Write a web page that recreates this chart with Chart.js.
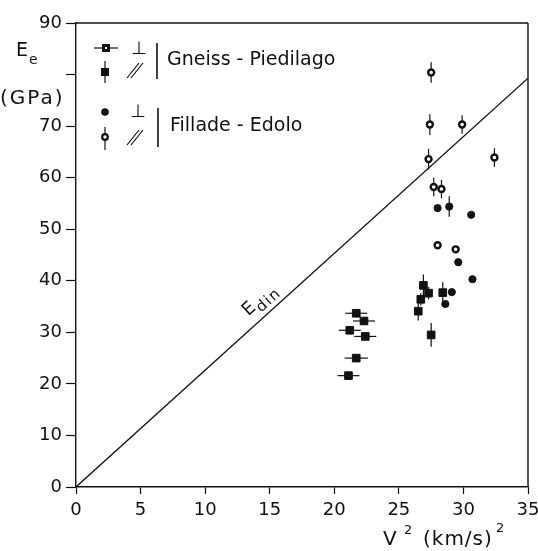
<!DOCTYPE html>
<html><head><meta charset="utf-8">
<script src="https://cdn.jsdelivr.net/npm/chart.js@4/dist/chart.umd.min.js"></script>
<style>html,body{margin:0;padding:0;background:#fff;}canvas{display:block;}</style>
</head><body>
<canvas id="c" width="538" height="551"></canvas>
<script>
// ---- data ----
const xTickValues = [0, 5, 10, 15, 20, 25, 30, 35];
const yTickLabels = ['0', '10', '20', '30', '40', '50', '60', '70', '', '90'];

// Gneiss - Piedilago, perpendicular (squares, horizontal error bars)
const gneissPerpX   = [21.7, 22.3, 21.2, 22.4, 21.7, 21.1];
const gneissPerpY   = [33.7, 32.2, 30.4, 29.2, 25.0, 21.6];
const gneissPerpErr = [0.85, 0.85, 0.85, 0.85, 0.9, 0.85];

// Gneiss - Piedilago, parallel (squares, vertical error bars)
const gneissParX   = [26.9, 27.3, 26.7, 26.5, 28.4, 27.5];
const gneissParY   = [39.1, 37.6, 36.4, 34.1, 37.7, 29.5];
const gneissParErr = [2.1, 1.2, 1.2, 1.8, 2.0, 2.3];

// Fillade - Edolo, perpendicular (filled circles)
const filladePerpX   = [28.0, 28.9, 30.6, 29.6, 30.7, 29.1, 28.6];
const filladePerpY   = [54.1, 54.4, 52.8, 43.6, 40.3, 37.8, 35.5];
const filladePerpErr = [0, 2.0, 0, 0, 0, 0, 0];

// Fillade - Edolo, parallel (open circles, vertical error bars)
const filladeParX   = [27.5, 27.4, 29.9, 32.4, 27.3, 27.7, 28.3, 28.0, 29.4];
const filladeParY   = [80.4, 70.3, 70.3, 63.9, 63.6, 58.2, 57.8, 46.9, 46.1];
const filladeParErr = [2.0, 2.0, 1.8, 1.8, 2.0, 1.8, 1.8, 0, 0];

// E din line
const edinX = [0, 35];
const edinY = [0, 79.3];
const edinLabelAt = 13.9;

// ---- styling ----
const FONT = '"DejaVu Sans", sans-serif';
const INK = '#111';
const pts = (xs, ys) => xs.map((x, i) => ({x, y: ys[i]}));

function seg(ctx, a, b, c, d) { ctx.beginPath(); ctx.moveTo(a, b); ctx.lineTo(c, d); ctx.stroke(); }

const errorBars = {
  id: 'errorBars',
  beforeDatasetsDraw(chart) {
    const {ctx} = chart, xs = chart.scales.x, ys = chart.scales.y;
    ctx.save(); ctx.strokeStyle = INK; ctx.lineWidth = 1.2;
    chart.data.datasets.forEach(ds => {
      ds.data.forEach((p, i) => {
        const px = xs.getPixelForValue(p.x), py = ys.getPixelForValue(p.y);
        if (ds.xErr && ds.xErr[i]) seg(ctx, xs.getPixelForValue(p.x - ds.xErr[i]), py, xs.getPixelForValue(p.x + ds.xErr[i]), py);
        if (ds.yErr && ds.yErr[i]) seg(ctx, px, ys.getPixelForValue(p.y - ds.yErr[i]), px, ys.getPixelForValue(p.y + ds.yErr[i]));
      });
    });
    ctx.restore();
  }
};

const frame = {
  id: 'frame',
  afterDraw(chart) {
    const {ctx, chartArea: a} = chart;
    ctx.save(); ctx.strokeStyle = INK; ctx.lineWidth = 1.4;
    seg(ctx, a.left, a.top, a.right, a.top);
    seg(ctx, a.right, a.top, a.right, a.bottom);
    ctx.restore();
  }
};

const annotations = {
  id: 'annotations',
  afterDraw(chart) {
    const {ctx} = chart, xs = chart.scales.x, ys = chart.scales.y;
    ctx.save();
    ctx.fillStyle = INK; ctx.strokeStyle = INK;
    ctx.textBaseline = 'alphabetic'; ctx.textAlign = 'left';

    // y axis title
    ctx.font = '19px ' + FONT; ctx.fillText('E', 16, 56);
    ctx.font = '14px ' + FONT; ctx.fillText('e', 29, 64);
    ctx.font = '20px ' + FONT; ctx.letterSpacing = '2px'; ctx.fillText('(GPa)', 0, 104);
    ctx.letterSpacing = '0px';

    // x axis title
    ctx.font = '20px ' + FONT; ctx.fillText('V', 383, 545);
    ctx.font = '13px ' + FONT; ctx.fillText('2', 404, 534);
    ctx.font = '20px ' + FONT; ctx.letterSpacing = '1px'; ctx.fillText('(km/s)', 423, 545);
    ctx.letterSpacing = '0px';
    ctx.font = '13px ' + FONT; ctx.fillText('2', 496, 532);

    // legend
    ctx.lineWidth = 1.2;
    seg(ctx, 94, 48, 118, 48);
    ctx.fillRect(102, 44, 8, 8);
    ctx.fillStyle = '#fff'; ctx.fillRect(105, 47, 2, 2); ctx.fillStyle = INK;
    seg(ctx, 105, 61, 105, 83);
    ctx.fillRect(101, 68, 8, 8);
    ctx.beginPath(); ctx.arc(105, 112, 3.8, 0, Math.PI * 2); ctx.fill();
    seg(ctx, 105, 127, 105, 150);
    ctx.fillStyle = '#fff'; ctx.lineWidth = 2.2;
    ctx.beginPath(); ctx.arc(105, 137, 2.8, 0, Math.PI * 2); ctx.fill(); ctx.stroke();
    ctx.fillStyle = INK;
    ctx.font = '18px ' + FONT; ctx.textAlign = 'center';
    ctx.fillText('\u22A5', 139, 54);
    ctx.fillText('\u22A5', 138, 117);
    ctx.textAlign = 'left';
    ctx.lineWidth = 1.2;
    seg(ctx, 127, 78, 139, 63); seg(ctx, 131, 78, 143, 63);
    seg(ctx, 127, 145, 139, 130); seg(ctx, 131, 145, 143, 130);
    ctx.lineWidth = 1.6;
    seg(ctx, 157, 43, 157, 79);
    seg(ctx, 158, 108, 158, 147);
    ctx.font = '19px ' + FONT; ctx.textBaseline = 'middle';
    ctx.fillText('Gneiss - Piedilago', 167, 60);
    ctx.fillText('Fillade - Edolo', 170, 126);

    // E din label along the line
    const x0 = xs.getPixelForValue(edinX[0]), y0 = ys.getPixelForValue(edinY[0]);
    const x1 = xs.getPixelForValue(edinX[1]), y1 = ys.getPixelForValue(edinY[1]);
    const ang = Math.atan2(y1 - y0, x1 - x0);
    const t = (edinLabelAt - edinX[0]) / (edinX[1] - edinX[0]);
    ctx.translate(x0 + (x1 - x0) * t, y0 + (y1 - y0) * t);
    ctx.rotate(ang);
    ctx.textBaseline = 'alphabetic';
    ctx.font = '18px ' + FONT; ctx.fillText('E', 0, -11);
    const w = ctx.measureText('E').width;
    ctx.font = '15px ' + FONT; ctx.letterSpacing = '1.5px'; ctx.fillText('din', w + 1, -5);
    ctx.restore();
  }
};

new Chart(document.getElementById('c'), {
  type: 'scatter',
  data: {
    datasets: [
      { label: 'Gneiss perp', data: pts(gneissPerpX, gneissPerpY), xErr: gneissPerpErr,
        pointStyle: 'rect', pointRadius: 5.4, backgroundColor: INK, borderColor: INK, borderWidth: 1 },
      { label: 'Gneiss par', data: pts(gneissParX, gneissParY), yErr: gneissParErr,
        pointStyle: 'rect', pointRadius: 5.4, backgroundColor: INK, borderColor: INK, borderWidth: 1 },
      { label: 'Fillade perp', data: pts(filladePerpX, filladePerpY), yErr: filladePerpErr,
        pointStyle: 'circle', pointRadius: 3.6, backgroundColor: INK, borderColor: INK, borderWidth: 1 },
      { label: 'Fillade par', data: pts(filladeParX, filladeParY), yErr: filladeParErr,
        pointStyle: 'circle', pointRadius: 3.0, backgroundColor: '#fff', borderColor: INK, borderWidth: 2.4 },
      { label: 'Edin', data: pts(edinX, edinY), showLine: true, pointRadius: 0,
        borderColor: INK, borderWidth: 1.3, fill: false }
    ]
  },
  options: {
    responsive: false,
    animation: false,
    layout: { padding: { left: 0, right: 10, top: 23, bottom: 0 } },
    plugins: { legend: { display: false }, tooltip: { enabled: false } },
    scales: {
      x: {
        type: 'linear', min: 0, max: 35,
        afterBuildTicks: s => { s.ticks = xTickValues.map(v => ({value: v})); },
        afterFit: s => { s.height = 64; s.paddingLeft = 0; s.paddingRight = 0; },
        ticks: { color: INK, font: { family: FONT, size: 18 }, padding: 6, maxRotation: 0,
                 callback: v => String(v) },
        grid: { drawOnChartArea: false, drawTicks: true, tickLength: 7, tickColor: INK, tickWidth: 1.2 },
        border: { display: true, color: INK, width: 1.4 }
      },
      y: {
        type: 'linear', min: 0, max: 90,
        ticks: { stepSize: 10, color: INK, font: { family: FONT, size: 18 }, padding: 4,
                 callback: (v, i) => yTickLabels[i] },
        afterFit: s => { s.width = 76; s.paddingTop = 0; s.paddingBottom = 0; },
        grid: { drawOnChartArea: false, drawTicks: true, tickLength: 10, tickColor: INK, tickWidth: 1.2 },
        border: { display: true, color: INK, width: 1.4 }
      }
    }
  },
  plugins: [errorBars, frame, annotations]
});
</script>
</body></html>
